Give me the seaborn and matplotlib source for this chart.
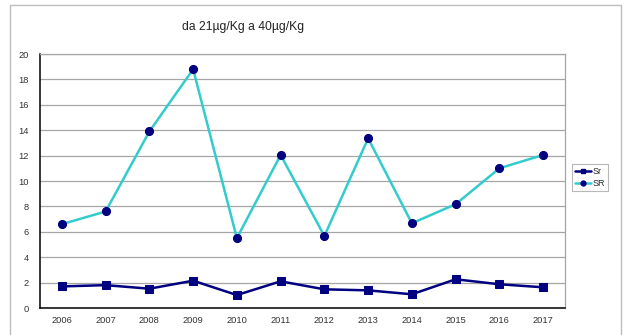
import matplotlib
matplotlib.use("Agg")
import matplotlib.pyplot as plt
from matplotlib.patches import Rectangle
from matplotlib.lines import Line2D
import numpy as np
import pandas as pd
import seaborn as sns

years = ["2006", "2007", "2008", "2009", "2010", "2011",
         "2012", "2013", "2014", "2015", "2016", "2017"]
sr_lower = [1.7, 1.8, 1.52, 2.15, 1.02, 2.1, 1.47, 1.39, 1.08, 2.26, 1.87, 1.63]
sr_upper = [6.6, 7.6, 13.9, 18.8, 5.5, 12.05, 5.67, 13.36, 6.67, 8.17, 11.0, 12.05]
y_ticks = [0, 2, 4, 6, 8, 10, 12, 14, 16, 18, 20]
title = "da 21\u00b5g/Kg a 40\u00b5g/Kg"

navy = "#000080"
cyan = "#33CCCC"

sns.set_style("white")
plt.rcParams["font.family"] = ["Liberation Sans", "DejaVu Sans"]

df = pd.DataFrame({"anno": years, "Sr": sr_lower, "SR": sr_upper})

fig = plt.figure(figsize=(6.25, 3.35), dpi=100)
ax = fig.add_axes([40 / 625, 27 / 335, 525 / 625, 254 / 335])

# outer chart frame
fig.patches.append(Rectangle((10 / 625, -0.2), 611 / 625, 1.2 - 5 / 335,
                             transform=fig.transFigure, fill=False,
                             edgecolor="#BDBDBD", linewidth=1.0, zorder=0))

sns.lineplot(data=df, x="anno", y="SR", ax=ax, color=cyan, linewidth=1.8,
             marker="o", markersize=5.8, markerfacecolor=navy,
             markeredgecolor=navy, zorder=3)
sns.lineplot(data=df, x="anno", y="Sr", ax=ax, color=navy, linewidth=1.8,
             marker="s", markersize=5.2, markerfacecolor=navy,
             markeredgecolor=navy, zorder=3)

ax.set_xlim(-0.5, len(years) - 0.5)
ax.set_ylim(0, 20)
ax.set_yticks(y_ticks)
ax.yaxis.grid(True, color="#A6A6A6", linewidth=0.9)
ax.xaxis.grid(False)
ax.set_axisbelow(True)
ax.set_xlabel("")
ax.set_ylabel("")

for side in ["left", "bottom"]:
    ax.spines[side].set_color("black")
    ax.spines[side].set_linewidth(1.1)
ax.spines["right"].set_color("#A6A6A6")
ax.spines["top"].set_color("#A6A6A6")
ax.spines["right"].set_linewidth(0.9)
ax.spines["top"].set_linewidth(0.9)

ax.tick_params(axis="y", length=0, pad=8, labelsize=6.7, labelcolor="#333333")
ax.tick_params(axis="x", which="major", length=0, pad=6, labelsize=6.7,
               labelcolor="#333333")
ax.set_xticks(np.arange(len(years) + 1) - 0.5, minor=True)
ax.tick_params(axis="x", which="minor", length=3, width=0.6, color="#555555",
               direction="out")

fig.text(243 / 625, 1 - 27 / 335, title, ha="center", va="center",
         fontsize=8.7, color="#222222")

handles = [
    Line2D([], [], color=navy, linewidth=1.8, marker="s", markersize=3.5,
           markerfacecolor=navy, markeredgecolor=navy),
    Line2D([], [], color=cyan, linewidth=1.8, marker="o", markersize=3.5,
           markerfacecolor=navy, markeredgecolor=navy),
]
leg = fig.legend(handles, ["Sr", "SR"], loc="upper left",
                 bbox_to_anchor=(572 / 625, 1 - 164 / 335),
                 fontsize=6.5, frameon=True, fancybox=False,
                 handlelength=1.8, handletextpad=0.1, borderpad=0.35,
                 labelspacing=0.35, borderaxespad=0)
leg.get_frame().set_edgecolor("#A6A6A6")
leg.get_frame().set_linewidth(0.8)

fig.savefig("out.png", dpi=100)
